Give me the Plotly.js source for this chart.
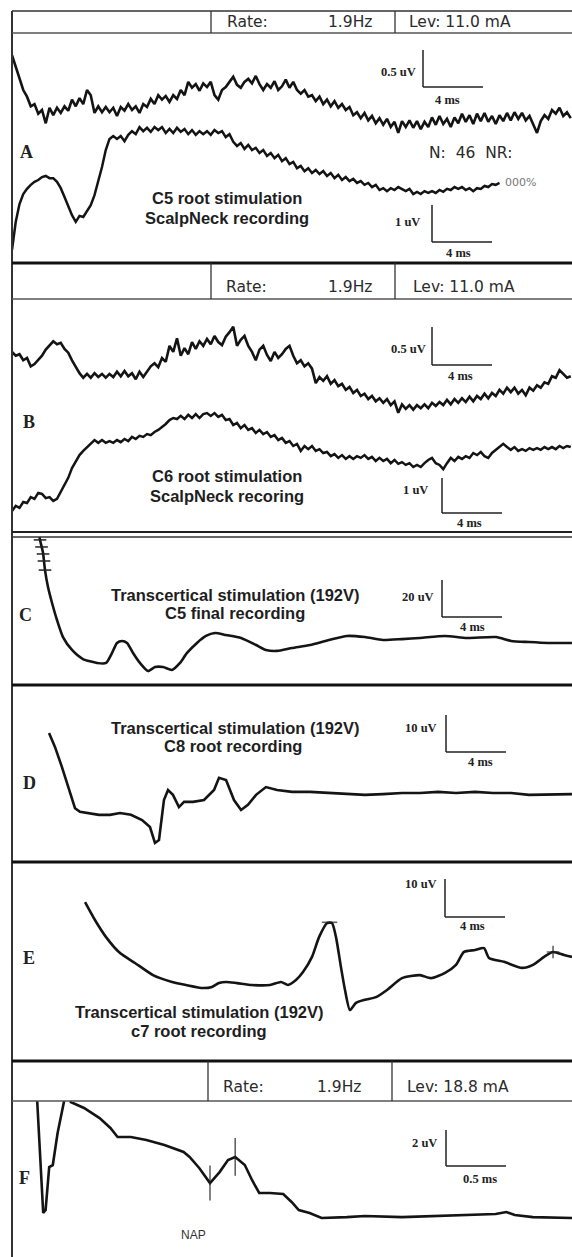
<!DOCTYPE html>
<html><head><meta charset="utf-8">
<script src="https://cdn.plot.ly/plotly-3.0.1.min.js"></script>
<style>html,body{margin:0;padding:0;background:#fff}#chart{width:572px;height:1257px}</style>
</head><body><div id="chart"></div>
<script>
// ---------------- DATA ----------------
const SAMPLE_MS = 0.25; // sampling interval of the averaged scalp/neck recordings (ms)

// Panel A, upper trace (uV)
const a1Uv = [0.74,0.59,0.41,0.27,0.18,0.05,0.08,-0.05,0,-0.18,
 0.03,-0.07,0.03,-0.04,0.05,-0.01,0.14,0.05,0.16,0.08,
 0.27,0.20,-0.04,0.05,-0.03,0.04,-0.03,0.03,-0.08,0.04,
 -0.01,0.08,0,0.05,-0.04,0.08,0.04,0.15,0.08,0.20,
 0.14,0.19,0.11,0.20,0.15,0.27,0.20,0.38,0.30,0.35,
 0.26,0.36,0.31,0.38,0.20,0.14,0.27,0.31,0.38,0.45,
 0.34,0.30,0.38,0.42,0.36,0.46,0.35,0.27,0.35,0.30,
 0.39,0.27,0.32,0.41,0.30,0.38,0.27,0.22,0.27,0.18,
 0.20,0.12,0.18,0.08,0.14,0.05,0.12,0.03,0.08,0,
 0.04,-0.07,-0.03,-0.11,-0.04,-0.14,-0.08,-0.18,-0.11,-0.20,
 -0.12,-0.23,-0.16,-0.31,-0.15,-0.23,-0.14,-0.24,-0.15,-0.26,
 -0.16,-0.23,-0.10,-0.20,-0.08,-0.19,-0.12,-0.23,-0.10,-0.18,
 -0.05,-0.16,-0.07,-0.19,-0.05,-0.15,-0.04,-0.16,-0.08,-0.19,
 -0.07,-0.15,-0.04,-0.14,-0.03,-0.12,-0.04,-0.14,-0.08,-0.19,
 -0.31,-0.15,-0.07,-0.12,0,-0.05,0.03,-0.08,-0.03,-0.11];

// Panel A, lower trace (uV)
const a2Uv = [-1.62,-0.86,-0.38,-0.11,0.03,0.14,0.22,0.27,0.35,0.38,
 0.32,0.32,0.22,0.05,-0.19,-0.43,-0.68,-0.86,-0.70,-0.73,
 -0.57,-0.41,-0.14,0.24,0.62,1.08,1.38,1.46,1.38,1.46,
 1.32,1.49,1.59,1.51,1.70,1.59,1.68,1.57,1.70,1.62,
 1.70,1.54,1.65,1.54,1.68,1.57,1.65,1.51,1.62,1.49,
 1.59,1.51,1.59,1.49,1.62,1.54,1.59,1.43,1.51,1.30,
 1.19,1.27,1.11,1.22,1.08,1.14,1.00,1.08,0.92,1.00,
 0.86,0.95,0.78,0.86,0.70,0.76,0.59,0.65,0.51,0.59,
 0.46,0.54,0.43,0.51,0.38,0.46,0.32,0.41,0.27,0.35,
 0.24,0.30,0.19,0.24,0.14,0.19,0.08,0.14,0,0.05,
 -0.03,0.05,0,0.08,0.03,-0.03,0.03,-0.11,-0.05,-0.11,
 -0.03,-0.08,-0.03,-0.08,0,-0.05,0.03,0,0.08,0.03,
 0.08,0,0.05,-0.03,0.05,0.03,0.11,0.08,0.16,0.14,0.19];

// Panel B, upper trace (uV)
const b1Uv = [0.33,0.28,0.30,0.22,0.25,0.14,0.17,0.22,0.28,0.36,
 0.42,0.47,0.43,0.45,0.37,0.32,0.22,0.13,0.05,-0.01,
 0.04,-0.01,0.05,0,0.04,-0.01,0.04,0,0.07,0.01,
 0.08,0.01,0.05,-0.03,0.07,0,0.07,0.14,0.18,0.13,
 0.25,0.20,0.41,0.33,0.51,0.28,0.38,0.30,0.46,0.37,
 0.47,0.41,0.50,0.43,0.54,0.46,0.42,0.53,0.59,0.66,
 0.41,0.49,0.54,0.41,0.33,0.22,0.36,0.41,0.29,0.21,
 0.33,0.25,0.30,0.37,0.41,0.28,0.18,0.22,0.14,0.18,
 0.11,-0.08,0,-0.05,0.01,-0.09,-0.04,-0.12,-0.09,-0.17,
 -0.13,-0.21,-0.17,-0.25,-0.22,-0.29,-0.25,-0.32,-0.28,-0.34,
 -0.29,-0.37,-0.32,-0.47,-0.36,-0.42,-0.37,-0.43,-0.37,-0.41,
 -0.36,-0.41,-0.34,-0.38,-0.33,-0.37,-0.30,-0.36,-0.29,-0.34,
 -0.28,-0.33,-0.26,-0.32,-0.25,-0.29,-0.22,-0.28,-0.21,-0.25,
 -0.17,-0.22,-0.14,-0.20,-0.14,-0.22,-0.17,-0.24,-0.14,-0.18,
 -0.11,-0.14,-0.07,-0.09,0.01,-0.01,0.09,0.04,-0.01,0.01];

// Panel B, lower trace (uV)
const b2Uv = [-1.46,-1.31,-1.37,-1.20,-1.23,-1.06,-1.11,-0.94,-0.97,-1.09,
 -1.06,-1.17,-1.11,-0.91,-0.74,-0.51,-0.23,-0.03,0.14,0.26,
 0.37,0.46,0.57,0.49,0.57,0.49,0.54,0.49,0.57,0.51,
 0.60,0.54,0.66,0.60,0.69,0.66,0.74,0.71,0.80,0.86,
 0.94,1.03,1.14,1.20,1.17,1.26,1.17,1.29,1.20,1.31,
 1.20,1.31,1.34,1.26,1.34,1.23,1.29,1.14,1.17,1.00,
 1.06,0.91,1.00,0.86,0.91,0.77,0.86,0.74,0.80,0.66,
 0.71,0.57,0.63,0.49,0.54,0.40,0.46,0.26,0.40,0.31,
 0.40,0.26,0.31,0.20,0.23,0.11,0.17,0.06,0.14,0.03,
 0.11,0.03,0.11,0.06,0.14,0.03,0.09,-0.03,0.06,-0.03,
 0.03,-0.09,0,-0.11,-0.06,-0.14,-0.09,-0.20,-0.14,-0.20,
 -0.09,0,0.06,-0.09,-0.14,-0.26,-0.09,0.06,-0.03,0.09,
 0.03,0.11,0.06,0.20,0.14,0.23,0.11,0.06,0.20,0.29,
 0.37,0.46,0.37,0.29,0.37,0.26,0.31,0.26,0.34,0.29,
 0.34,0.29,0.37,0.31,0.37,0.31,0.40,0.34,0.40,0.37];

// Panel C (transcortical stimulation, C5 recording)
const cMs = [1.53,1.8,1.87,2.07,2.2,2.4,2.67,3.0,3.4,4.0,4.73,5.67,6.27,6.67,7.0,7.33,7.67,8.07,8.53,9.07,9.53,10.07,10.67,11.2,11.67,12.33,12.93,13.53,14.27,15.27,16.27,16.93,17.67,18.67,19.87,21.13,22.33,23.53,24.73,26.0,27.2,28.87,30.33,32.27,33.27,34.47,35.73,37.33];
const cUv = [72,57.8,54.1,47.0,37.8,28.6,20.0,10.8,1.6,-5.4,-10.3,-12.4,-12.4,-7.0,-1.6,-0.5,-1.6,-7.0,-12.4,-16.8,-14.6,-14.6,-16.2,-12.4,-7.0,-1.6,2.2,3.8,2.7,1.1,-2.7,-5.4,-5.9,-4.3,-2.7,0,2.2,1.6,0,0.5,1.1,2.2,1.1,1.6,-0.5,-1.1,-1.6,-1.6];
const cTickMs = [1.87,1.97,2.07,2.13,2.2];
const cTickUv = [54.1,50.3,46.5,42.7,37.8];

// Panel D (C8 root recording)
const dMs = [2.47,2.87,3.33,3.8,4.2,4.53,5.07,5.8,6.53,7.2,7.93,8.67,9.2,9.53,9.8,10.13,10.4,10.73,11.13,11.47,12.07,12.8,13.47,13.8,14.27,14.8,15.27,15.73,16.27,16.93,17.67,18.67,19.87,21.13,22.33,23.53,24.73,26.0,27.2,28.4,29.6,30.87,32.07,33.27,34.47,35.73,37.33];
const dUv = [16.2,12.4,7.0,0.8,-4.1,-5.1,-5.4,-5.9,-5.9,-5.4,-5.9,-7.3,-9.2,-13.5,-12.7,-1.9,0.8,-0.5,-3.8,-2.4,-2.4,-1.9,0.8,4.1,3.5,-1.9,-4.6,-3.2,-0.5,1.6,0.8,0.3,0.3,0,-0.3,-0.5,-0.3,0,0,0.3,0,0.3,0,0,-0.5,-0.5,-0.3];

// Panel E (C7 root recording)
const eMs = [4.87,5.53,6.27,7.2,8.2,9.4,10.67,11.6,12.73,13.33,13.8,14.27,15.0,16.0,17.2,17.93,18.4,18.93,19.4,20.0,20.47,21.0,21.33,21.6,21.93,22.2,22.53,22.93,23.53,24.27,25.0,26.0,27.2,27.93,28.87,29.6,30.13,30.87,31.47,31.8,32.8,34.0,34.73,35.47,36.07,36.8,37.33];
const eUv = [21.8,17.1,12.6,8.4,5.8,2.6,0.8,0,-0.8,-0.5,0.5,0.8,0.5,0,0,0.8,0,1.3,3.4,7.4,12.6,16.3,16.3,12.6,4.7,-1.3,-6.6,-4.7,-3.9,-3.2,-1.3,1.8,2.6,1.8,3.2,5.3,8.7,9.2,9.7,7.1,6.1,4.5,5.3,7.4,8.7,7.9,7.4];
const eCursorMs = [21.17,36.07];
const eCursorUv = [16.5,8.7];

// Panel F (NAP)
const fMs = [0.19,0.21,0.26,0.28,0.31,0.34,0.38,0.44,0.47,0.49,0.6,0.73,0.82,0.88,0.99,1.12,1.27,1.43,1.48,1.56,1.65,1.73,1.8,1.86,1.94,2.0,2.06,2.15,2.26,2.33,2.39,2.48,2.58,2.79,2.94,3.25,3.55,3.86,4.03,4.12,4.19,4.34,4.67];
const fUv = [7.6,6.39,0.17,0.33,2.72,2.83,4.61,6.39,7.56,6.33,6.0,5.44,4.89,4.39,4.39,4.22,3.94,3.56,3.28,2.67,1.83,2.44,3.11,3.28,2.83,2.0,1.28,1.28,1.22,0.78,0.33,0.17,-0.11,-0.06,0,-0.06,0,0.06,0.11,0.22,0.06,-0.06,-0.11];
const fCursorMs = [1.65,1.86];
const fCursorUv = [1.83,3.28];

// Text content
const panelLetters = ['A','B','C','D','E','F'];
const headerA = ['Rate:','1.9Hz','Lev: 11.0 mA'];
const headerB = ['Rate:','1.9Hz','Lev: 11.0 mA'];
const headerF = ['Rate:','1.9Hz','Lev: 18.8 mA'];

const a1Ms = a1Uv.map((_, i) => +(i * SAMPLE_MS).toFixed(2));
const a2Ms = a2Uv.map((_, i) => +(i * SAMPLE_MS).toFixed(2));
const b1Ms = b1Uv.map((_, i) => +(i * SAMPLE_MS).toFixed(2));
const b2Ms = b2Uv.map((_, i) => +(i * SAMPLE_MS).toFixed(2));

// ---------------- LAYOUT / STYLE ----------------
const W = 572, H = 1257, X0 = 12;
const px = x => x / W;
const py = y => 1 - y / H;

const tracks = [
  {ms:a1Ms, uv:a1Uv, ppm:15, ppu:74, zero:110, top:33, bot:263, w:2.6},
  {ms:a2Ms, uv:a2Uv, ppm:15, ppu:37, zero:190, top:33, bot:263, w:2.5},
  {ms:b1Ms, uv:b1Uv, ppm:15, ppu:76, zero:377, top:299, bot:533, w:2.6},
  {ms:b2Ms, uv:b2Uv, ppm:15, ppu:35, zero:460, top:299, bot:533, w:2.5},
  {ms:cMs, uv:cUv, ppm:15, ppu:1.85, zero:640, top:537, bot:685, w:2.6, shape:'spline'},
  {ms:dMs, uv:dUv, ppm:15, ppu:3.7, zero:793, top:686, bot:862, w:2.6},
  {ms:eMs, uv:eUv, ppm:15, ppu:3.8, zero:985, top:863, bot:1060, w:2.6, shape:'spline'},
  {ms:fMs, uv:fUv, ppm:120, ppu:18, zero:1216, top:1101, bot:1257, w:2.6},
];
const sfx = i => (i === 0 ? '' : String(i + 1));

const layout = {
  width: W, height: H, margin: {l:0, r:0, t:0, b:0},
  paper_bgcolor: '#fff', plot_bgcolor: 'rgba(0,0,0,0)',
  showlegend: false, shapes: [], annotations: []
};
const data = [];

tracks.forEach((tr, i) => {
  const s = sfx(i);
  layout['xaxis' + s] = {domain:[X0 / W, 1], range:[0, (W - X0) / tr.ppm], visible:false, fixedrange:true, anchor:'y' + s};
  layout['yaxis' + s] = {domain:[py(tr.bot), py(tr.top)], range:[(tr.zero - tr.bot) / tr.ppu, (tr.zero - tr.top) / tr.ppu], visible:false, fixedrange:true, anchor:'x' + s};
  data.push({type:'scatter', mode:'lines', x:tr.ms, y:tr.uv, xaxis:'x' + s, yaxis:'y' + s,
    line:{color:'#141414', width:tr.w, shape:tr.shape || 'linear', smoothing:0.6}, hoverinfo:'skip'});
});

// cursor / tick marks
data.push({type:'scatter', mode:'markers', x:cTickMs, y:cTickUv, xaxis:'x5', yaxis:'y5',
  marker:{symbol:'line-ew', size:9, line:{color:'#222', width:1.5}}, hoverinfo:'skip'});
data.push({type:'scatter', mode:'markers', x:eCursorMs, y:eCursorUv, xaxis:'x7', yaxis:'y7',
  marker:{symbol:['line-ew','cross-thin'], size:[11,9], line:{color:'#222', width:1.6}}, hoverinfo:'skip'});
data.push({type:'scatter', mode:'markers', x:fCursorMs, y:fCursorUv, xaxis:'x8', yaxis:'y8',
  marker:{symbol:'line-ns', size:[25,27], line:{color:'#222', width:1.6}}, hoverinfo:'skip'});

// frame lines
function hline(y, x0, x1, w, c) { layout.shapes.push({type:'line', xref:'paper', yref:'paper', x0:px(x0), x1:px(x1), y0:py(y), y1:py(y), line:{color:c, width:w}}); }
function vline(x, y0, y1, w, c) { layout.shapes.push({type:'line', xref:'paper', yref:'paper', x0:px(x), x1:px(x), y0:py(y0), y1:py(y1), line:{color:c, width:w}}); }

vline(12, 11, 1257, 2, '#333');
hline(11, 12, 572, 1.6, '#333');
hline(33, 12, 572, 1.4, '#555');
vline(211, 11, 33, 1.3, '#333'); vline(395, 11, 33, 1.3, '#333');
hline(263, 12, 572, 3, '#111');
hline(299, 12, 572, 1.4, '#555');
vline(211, 263, 299, 1.3, '#333'); vline(395, 263, 299, 1.3, '#333');
hline(532, 12, 572, 2, '#222');
hline(537, 12, 572, 1.5, '#333');
hline(685, 12, 572, 3, '#111');
hline(862, 12, 572, 3, '#111');
hline(1061, 12, 572, 3, '#111');
hline(1101, 12, 572, 1.4, '#555');
vline(208, 1061, 1101, 1.3, '#333'); vline(392, 1061, 1101, 1.3, '#333');

// text helpers
const HEAD_FONT = {family:'DejaVu Sans, Verdana, sans-serif', size:15.5, color:'#2b2b2b'};
const CAP_FONT = {family:'Liberation Sans, Arial, sans-serif', size:16.5, color:'#1e1e1e', weight:'bold'};
const SCALE_FONT = {family:'Liberation Serif, Times New Roman, serif', size:12.5, color:'#222', weight:'bold'};
const LETTER_FONT = {family:'Liberation Serif, Times New Roman, serif', size:18, color:'#222', weight:'bold'};
function txt(text, x, y, font, xa, ya) {
  layout.annotations.push({text:text, xref:'paper', yref:'paper', x:px(x), y:py(y), showarrow:false,
    xanchor:xa || 'center', yanchor:ya || 'middle', font:font});
}

// headers
[[headerA, 22, [247, 350, 407]], [headerB, 287, [246, 350, 411]], [headerF, 1087, [243, 339, 405]]].forEach(h => {
  txt(h[0][0], h[2][0], h[1], HEAD_FONT);
  txt(h[0][1], h[2][1], h[1], HEAD_FONT);
  txt(h[0][2], h[2][2], h[1], HEAD_FONT, 'left');
});

// panel letters
[[26,152],[29,422],[25,615],[29,783],[29,958],[24,1178]].forEach((p, i) => txt(panelLetters[i], p[0], p[1], LETTER_FONT));

// captions
txt('C5 root stimulation', 227, 198, CAP_FONT);
txt('ScalpNeck recording', 227, 218, CAP_FONT);
txt('C6 root stimulation', 227, 476, CAP_FONT);
txt('ScalpNeck recoring', 227, 496, CAP_FONT);
txt('Transcertical stimulation (192V)', 235, 595, CAP_FONT);
txt('C5 final recording', 235, 613, CAP_FONT);
txt('Transcertical stimulation (192V)', 235, 728, CAP_FONT);
txt('C8 root recording', 233, 746, CAP_FONT);
txt('Transcertical stimulation (192V)', 199, 1012, CAP_FONT);
txt('c7 root recording', 199, 1031, CAP_FONT);
txt('N:  46  NR:', 427, 153, HEAD_FONT, 'left');
txt('000%', 503, 182, {family:'DejaVu Sans, sans-serif', size:11, color:'#777'}, 'left');
txt('NAP', 193, 1235, {family:'Liberation Sans, Arial, sans-serif', size:12, color:'#333'});

// scale bars (lengths in each trace's own units)
const scaleBars = [
  {t:0, cx:423, cy:87,   ms:4,   uv:0.5, uvText:'0.5 uV', msText:'4 ms',   uvLab:[418,72],   msLab:[447,100]},
  {t:1, cx:432, cy:242,  ms:4,   uv:1,   uvText:'1 uV',   msText:'4 ms',   uvLab:[422,222],  msLab:[458,253]},
  {t:2, cx:432, cy:365,  ms:4,   uv:0.5, uvText:'0.5 uV', msText:'4 ms',   uvLab:[428,349],  msLab:[460,376]},
  {t:3, cx:442, cy:513,  ms:4,   uv:1,   uvText:'1 uV',   msText:'4 ms',   uvLab:[430,490],  msLab:[469,523]},
  {t:4, cx:442, cy:617,  ms:4,   uv:20,  uvText:'20 uV',  msText:'4 ms',   uvLab:[436,597],  msLab:[473,627]},
  {t:5, cx:446, cy:752,  ms:4,   uv:10,  uvText:'10 uV',  msText:'4 ms',   uvLab:[439,728],  msLab:[480,762]},
  {t:6, cx:445, cy:917,  ms:4,   uv:10,  uvText:'10 uV',  msText:'4 ms',   uvLab:[439,884],  msLab:[473,926]},
  {t:7, cx:446, cy:1166, ms:0.5, uv:2,   uvText:'2 uV',   msText:'0.5 ms', uvLab:[439,1143], msLab:[480,1179]},
];
scaleBars.forEach(b => {
  const tr = tracks[b.t], s = sfx(b.t);
  const t0 = (b.cx - X0) / tr.ppm, v0 = (tr.zero - b.cy) / tr.ppu;
  const ln = {color:'#222', width:1.5};
  layout.shapes.push({type:'line', xref:'x' + s, yref:'y' + s, x0:t0, x1:t0, y0:v0, y1:v0 + b.uv, line:ln});
  layout.shapes.push({type:'line', xref:'x' + s, yref:'y' + s, x0:t0, x1:t0 + b.ms, y0:v0, y1:v0, line:ln});
  txt(b.uvText, b.uvLab[0], b.uvLab[1], SCALE_FONT, 'right');
  txt(b.msText, b.msLab[0], b.msLab[1], SCALE_FONT);
});

Plotly.newPlot('chart', data, layout, {staticPlot:true, displayModeBar:false});
</script>
</body></html>
